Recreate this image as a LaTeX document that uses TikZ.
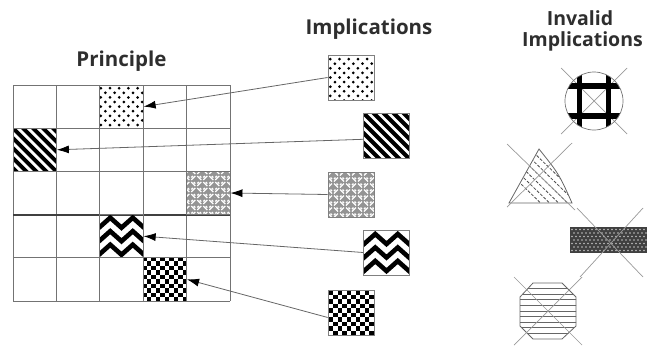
\documentclass[tikz,border=0pt]{standalone}
\usepackage{fontspec}
\setsansfont{Open Sans}
\usetikzlibrary{arrows.meta}
\tikzset{
  gridline/.style={draw=black!55, line width=0.9pt},
  heading/.style={font=\sffamily\bfseries\fontsize{20.5}{20.5}\selectfont, text=black!82, inner sep=0pt, anchor=base},
  small heading/.style={heading, font=\sffamily\bfseries\fontsize{19.5}{19.5}\selectfont},
  cell/.style={gridline, minimum width=43.4pt, minimum height=43.2pt, inner sep=0pt},
  tile/.style={draw=black!50, line width=0.7pt, minimum width=46pt, minimum height=45pt, inner sep=0pt},
  link/.style={draw=black!60, line width=0.8pt, -{Latex[length=12pt,width=8pt,color=black]}},
  cross/.style={draw=black!40, line width=0.7pt},
  % fill patterns, drawn around the centre of the node
  dotted tile/.style={path picture={
    \begin{scope}[shift={(path picture bounding box.center)}]
      \foreach \r in {-5,...,5} {
        \pgfmathsetmacro\o{4.6*mod(\r+10,2)}
        \foreach \c in {-3,...,3}
          \fill[black] (\c*9.2+\o-2.3,\r*4.6) circle (1.5);
      }
    \end{scope}}},
  striped tile/.style={path picture={
    \begin{scope}[shift={(path picture bounding box.center)}]
      \foreach \k in {-8,...,8}
        \draw[draw=black, line width=3.9pt] (\k*10-30,-30) -- (\k*10+30,30);
    \end{scope}}},
  woven tile/.style={path picture={
    \fill[black!42] (path picture bounding box.south west) rectangle (path picture bounding box.north east);
    \begin{scope}[shift={(path picture bounding box.center)}, draw=white, line width=1.3pt]
      \foreach \i in {-4,...,3} {
        \foreach \j in {-4,...,3} {
          \pgfmathtruncatemacro\t{mod(\i+\j+20,2)}
          \ifnum\t=0
            \draw (\j*6+1,\i*6+5) -- ++(4,-4) (\j*6+1,\i*6+2.5) -- ++(1.5,-1.5);
          \else
            \draw (\j*6+1,\i*6+1) -- ++(4,4) (\j*6+3.5,\i*6+1) -- ++(1.5,1.5);
          \fi
        }
      }
    \end{scope}}},
  zigzag tile/.style={path picture={
    \begin{scope}[shift={(path picture bounding box.center)}, draw=black, line width=4.6pt, miter limit=10]
      \foreach \yy in {-13.5,0,13.5}
        \draw (-33.75,\yy-5) -- (-22.5,\yy+5) -- (-11.25,\yy-5) -- (0,\yy+5)
              -- (11.25,\yy-5) -- (22.5,\yy+5) -- (33.75,\yy-5);
    \end{scope}}},
  checker tile/.style={path picture={
    \begin{scope}[shift={(path picture bounding box.center)}]
      \foreach \i in {0,...,9} {
        \pgfmathsetmacro\s{4.5*mod(\i,2)}
        \foreach \j in {0,2,...,8}
          \fill[black] (-22.5+\j*4.5+\s,-22.5+\i*4.5) rectangle ++(4.5,4.5);
      }
    \end{scope}}},
}
\begin{document}
\begin{tikzpicture}[x=1pt, y=-1pt]
\useasboundingbox (0,0) rectangle (647,346);

% headings
\node[heading] (hp) at (121.5,66) {Principle};
\node[heading] (hi) at (369,34.5) {Implications};
\node[small heading] (hv) at (580,25) {Invalid};
\node[small heading] (hw) at (582.5,46) {Implications};

% the 5 x 5 grid
\foreach \i in {0,...,5} \draw[gridline] (13+\i*43.4,85) -- (13+\i*43.4,301);
\foreach \j in {0,...,5} \draw[gridline] (13,85+\j*43.2) -- (230,85+\j*43.2);
\draw[line width=1.8pt, black!75] (13,214.6) -- (230,214.6);

% patterned cells of the grid
\node[cell, dotted tile]  (p1) at (121.5,106.6) {};
\node[cell, striped tile] (p2) at (34.7,149.8) {};
\node[cell, woven tile]   (p3) at (208.3,193) {};
\node[cell, zigzag tile]  (p4) at (121.5,236.2) {};
\node[cell, checker tile] (p5) at (164.9,279.4) {};

% implication tiles
\node[tile, dotted tile]  (t1) at (351,77.5) {};
\node[tile, striped tile] (t2) at (386.5,136) {};
\node[tile, woven tile]   (t3) at (351,194.5) {};
\node[tile, zigzag tile]  (t4) at (386.5,252.5) {};
\node[tile, checker tile] (t5) at (351,312.5) {};

% arrows from each tile back into the grid
\draw[link] (t1.west) -- (p1.east);
\draw[link] (t2.188) -- (p2.east);
\draw[link] (t3.west) -- (p3.east);
\draw[link] (t4.west) -- (p4.east);
\draw[link] (t5.192) -- (p5.east);

% invalid 1: circle with heavy bars
\draw[cross] (561,68) -- (627,134) (627,68) -- (561,134);
\begin{scope}
  \clip (594,101) circle (29);
  \draw[line width=5.5pt] (579.5,60) -- (579.5,140) (608.5,60) -- (608.5,140)
                        (550,86) -- (640,86) (550,116) -- (640,116);
\end{scope}
\draw[black!55, line width=0.7pt] (594,101) circle (29);

% invalid 2: cone with dashed hatching
\begin{scope}
  \clip (539,149) -- (509,203) -- (572,203) .. controls (559,174) .. (539,149) -- cycle;
  \foreach \k in {1,...,6}
    \draw[black!70, line width=0.8pt, dash pattern=on 3pt off 1.6pt] (539-\k*9,149) -- ++(70,68);
\end{scope}
\draw[black!60, line width=0.8pt] (539,149) -- (509,203) -- (572,203) .. controls (559,174) .. (539,149) -- cycle;
\draw[cross] (507,144) -- (575,210) (572,143) -- (507,207);

% invalid 3: dark dotted bar
\fill[black!75] (570,227) rectangle (647,253);
\foreach \r in {0,...,6} {
  \pgfmathsetmacro\o{2*mod(\r,2)}
  \foreach \c in {0,...,19}
    \fill[white!75!black] (572+\c*4+\o,229.5+\r*3.5) circle (0.9);
}
\draw[cross] (577,208) -- (643,277) (643,208) -- (580,277);

% invalid 4: octagon with horizontal hatching
\begin{scope}
  \clip (533,283) -- (562,283) -- (576,297) -- (576,326) -- (562,339) -- (533,339) -- (520,326) -- (520,297) -- cycle;
  \foreach \k in {1,...,9}
    \draw[black!60, line width=0.7pt] (515,283+\k*5.6) -- (581,283+\k*5.6);
\end{scope}
\draw[black!60, line width=0.8pt] (533,283) -- (562,283) -- (576,297) -- (576,326) -- (562,339) -- (533,339) -- (520,326) -- (520,297) -- cycle;
\draw[cross] (514,277) -- (582,345) (582,277) -- (514,345);
\end{tikzpicture}
\end{document}
